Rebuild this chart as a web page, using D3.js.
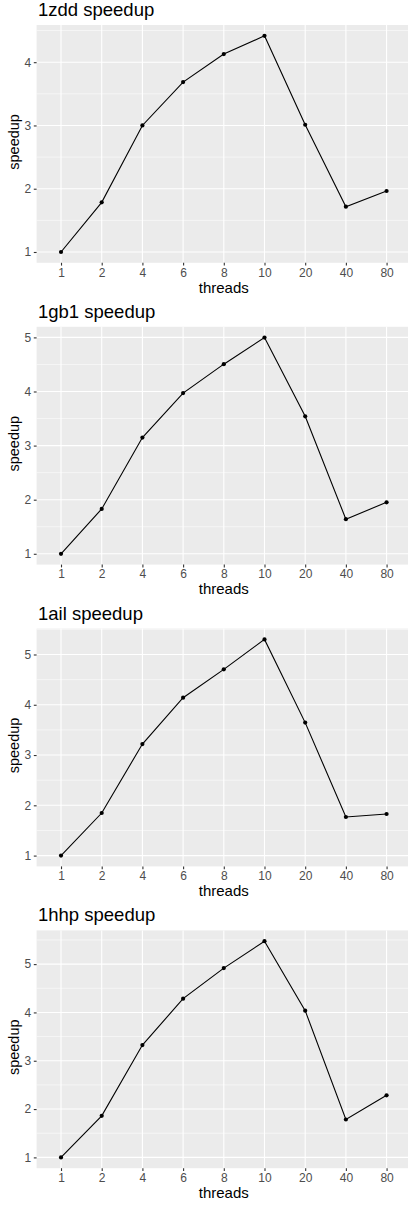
<!DOCTYPE html>
<html>
<head>
<meta charset="utf-8">
<script src="https://cdn.jsdelivr.net/npm/d3@7"></script>
<style>
  body { margin: 0; background: #fff; }
  svg { display: block; font-family: "Liberation Sans", Arial, sans-serif; }
</style>
</head>
<body>
<svg width="408" height="1205"></svg>
<script>
var threads = ["1", "2", "4", "6", "8", "10", "20", "40", "80"];

var zdd = [1.0, 1.785, 3.0, 3.686, 4.128, 4.417, 3.011, 1.716, 1.964];
var gb1 = [1.0, 1.829, 3.149, 3.971, 4.505, 4.996, 3.541, 1.639, 1.952];
var ail = [1.0, 1.847, 3.219, 4.141, 4.704, 5.30, 3.645, 1.768, 1.827];
var hhp = [1.0, 1.86, 3.324, 4.285, 4.918, 5.474, 4.037, 1.784, 2.285];

var titles = ["1zdd speedup", "1gb1 speedup", "1ail speedup", "1hhp speedup"];
var series = [zdd, gb1, ail, hhp];

var svg = d3.select("svg"),
    panelLeft = 36.6,
    panelRight = 411,
    panelTop = 25,
    panelHeight = 237.8,
    step = 301.8;

var x = d3.scalePoint()
    .domain(threads)
    .range([panelLeft, panelRight])
    .padding(0.6);

series.forEach(function(values, i) {
  var g = svg.append("g").attr("transform", "translate(0," + (i * step) + ")");
  var top = panelTop, bottom = panelTop + panelHeight;

  // ggplot style 5% expansion of the data range
  var lo = d3.min(values), hi = d3.max(values), pad = (hi - lo) * 0.05;
  var y = d3.scaleLinear().domain([lo - pad, hi + pad]).range([bottom, top]);

  var major = d3.range(Math.ceil(lo - pad), Math.floor(hi + pad) + 1);
  var minor = d3.range(Math.floor(lo - pad) + 0.5, hi + pad, 1).filter(function(v) {
    return v > lo - pad && v < hi + pad;
  });

  // title
  g.append("text")
    .attr("x", 38)
    .attr("y", 16)
    .style("font-size", "18.5px")
    .attr("fill", "#000")
    .text(titles[i]);

  // panel
  g.append("rect")
    .attr("x", panelLeft)
    .attr("y", top)
    .attr("width", panelRight - panelLeft)
    .attr("height", panelHeight)
    .attr("fill", "#ebebeb");

  g.selectAll(".minor")
    .data(minor)
    .enter().append("line")
      .attr("x1", panelLeft).attr("x2", panelRight)
      .attr("y1", function(d) { return y(d); })
      .attr("y2", function(d) { return y(d); })
      .attr("stroke", "#fff")
      .attr("stroke-width", 0.55);

  g.selectAll(".majory")
    .data(major)
    .enter().append("line")
      .attr("x1", panelLeft).attr("x2", panelRight)
      .attr("y1", function(d) { return y(d); })
      .attr("y2", function(d) { return y(d); })
      .attr("stroke", "#fff")
      .attr("stroke-width", 1.1);

  g.selectAll(".majorx")
    .data(threads)
    .enter().append("line")
      .attr("x1", function(d) { return x(d); })
      .attr("x2", function(d) { return x(d); })
      .attr("y1", top).attr("y2", bottom)
      .attr("stroke", "#fff")
      .attr("stroke-width", 1.1);

  // axes
  var yAxis = g.append("g")
      .attr("transform", "translate(" + panelLeft + ",0)")
      .call(d3.axisLeft(y).tickValues(major).tickSize(2.8).tickPadding(2.5).tickFormat(d3.format("d")));
  var xAxis = g.append("g")
      .attr("transform", "translate(0," + bottom + ")")
      .call(d3.axisBottom(x).tickSize(2.8).tickPadding(2.5));

  [yAxis, xAxis].forEach(function(ax) {
    ax.select(".domain").remove();
    ax.selectAll(".tick line").attr("stroke", "#333").attr("stroke-width", 1.1);
    ax.selectAll(".tick text")
      .attr("fill", "#4d4d4d")
      .style("font-size", "12px")
      .style("font-family", "'Liberation Sans', Arial, sans-serif");
  });

  // axis titles
  g.append("text")
    .attr("x", (panelLeft + 411) / 2)
    .attr("y", 292.5)
    .attr("text-anchor", "middle")
    .style("font-size", "15px")
    .text("threads");

  g.append("text")
    .attr("transform", "translate(19," + ((top + bottom) / 2 - 2) + ") rotate(-90)")
    .attr("text-anchor", "middle")
    .style("font-size", "14.5px")
    .text("speedup");

  // line + points
  var line = d3.line()
    .x(function(d, j) { return x(threads[j]); })
    .y(function(d) { return y(d); });

  g.append("path")
    .datum(values)
    .attr("fill", "none")
    .attr("stroke", "#000")
    .attr("stroke-width", 1.1)
    .attr("d", line);

  g.selectAll(".pt")
    .data(values)
    .enter().append("circle")
      .attr("cx", function(d, j) { return x(threads[j]); })
      .attr("cy", function(d) { return y(d); })
      .attr("r", 2.1)
      .attr("fill", "#000");
});
</script>
</body>
</html>
